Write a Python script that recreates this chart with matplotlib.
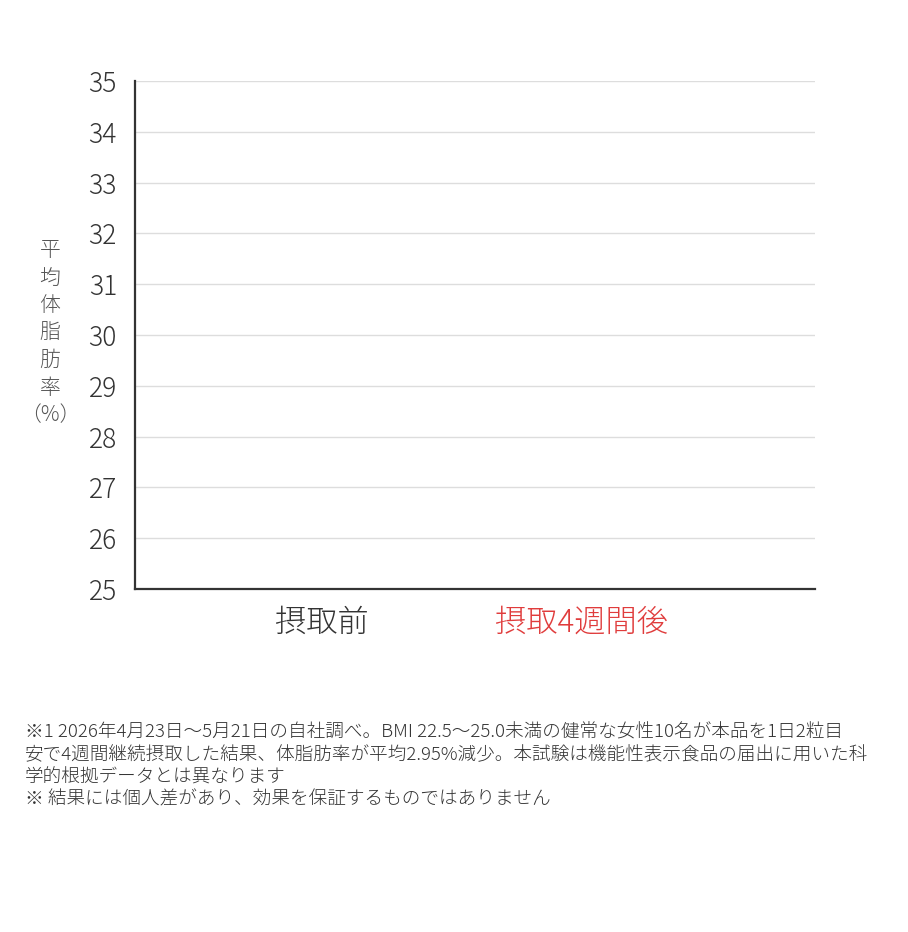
import numpy as np
import matplotlib
matplotlib.use("Agg")
import matplotlib.pyplot as plt

plt.rcParams['font.family'] = ['Noto Sans CJK JP', 'DejaVu Sans']
plt.rcParams['font.weight'] = 'light'

categories = ["摂取前", "摂取4週間後"]
values = [np.nan, np.nan]  # no bars are visible in the reference
label_colors = ["#333333", "#e03c3c"]
yticks = [25, 26, 27, 28, 29, 30, 31, 32, 33, 34, 35]
ylabel_chars = ["平", "均", "体", "脂", "肪", "率", "（%）"]
footnote = ("※1 2026年4月23日～5月21日の自社調べ。BMI 22.5～25.0未満の健常な女性10名が本品を1日2粒目\n"
            "安で4週間継続摂取した結果、体脂肪率が平均2.95%減少。本試験は機能性表示食品の届出に用いた科\n"
            "学的根拠データとは異なります\n"
            "※ 結果には個人差があり、効果を保証するものではありません")

fig = plt.figure(figsize=(9.08, 9.32), dpi=100)
ax = fig.add_axes([135/908, 1-589/932, 680/908, 508/932])

x = np.arange(len(categories))
ax.bar(x, values, width=0.5, color="#cccccc")
ax.set_xlim(-0.72, 1.9)
ax.set_ylim(25, 35)
ax.set_yticks(yticks)
ax.set_yticklabels([str(v) for v in yticks], fontsize=19, color="#333333")
ax.tick_params(axis='y', length=0, pad=13)
ax.set_xticks(x)
ax.set_xticklabels(categories, fontsize=22.5)
for lbl, c in zip(ax.get_xticklabels(), label_colors):
    lbl.set_color(c)
ax.tick_params(axis='x', length=0, pad=13)
ax.grid(axis='y', color="#dddddd", linewidth=1)
ax.set_axisbelow(True)
for s in ["top", "right"]:
    ax.spines[s].set_visible(False)
for s in ["left", "bottom"]:
    ax.spines[s].set_color("#333333")
    ax.spines[s].set_linewidth(1.6)

# vertical stacked y label
y0 = 250
for i, ch in enumerate(ylabel_chars):
    fig.text(50/908, 1-(y0 + i*27.5)/932, ch, fontsize=15, color="#555555",
             ha="center", va="center")

fig.text(25/908, 1-724/932, footnote, fontsize=13.4, color="#333333",
         ha="left", va="top", linespacing=1.3)

fig.savefig("out.png", dpi=100, facecolor="white")
